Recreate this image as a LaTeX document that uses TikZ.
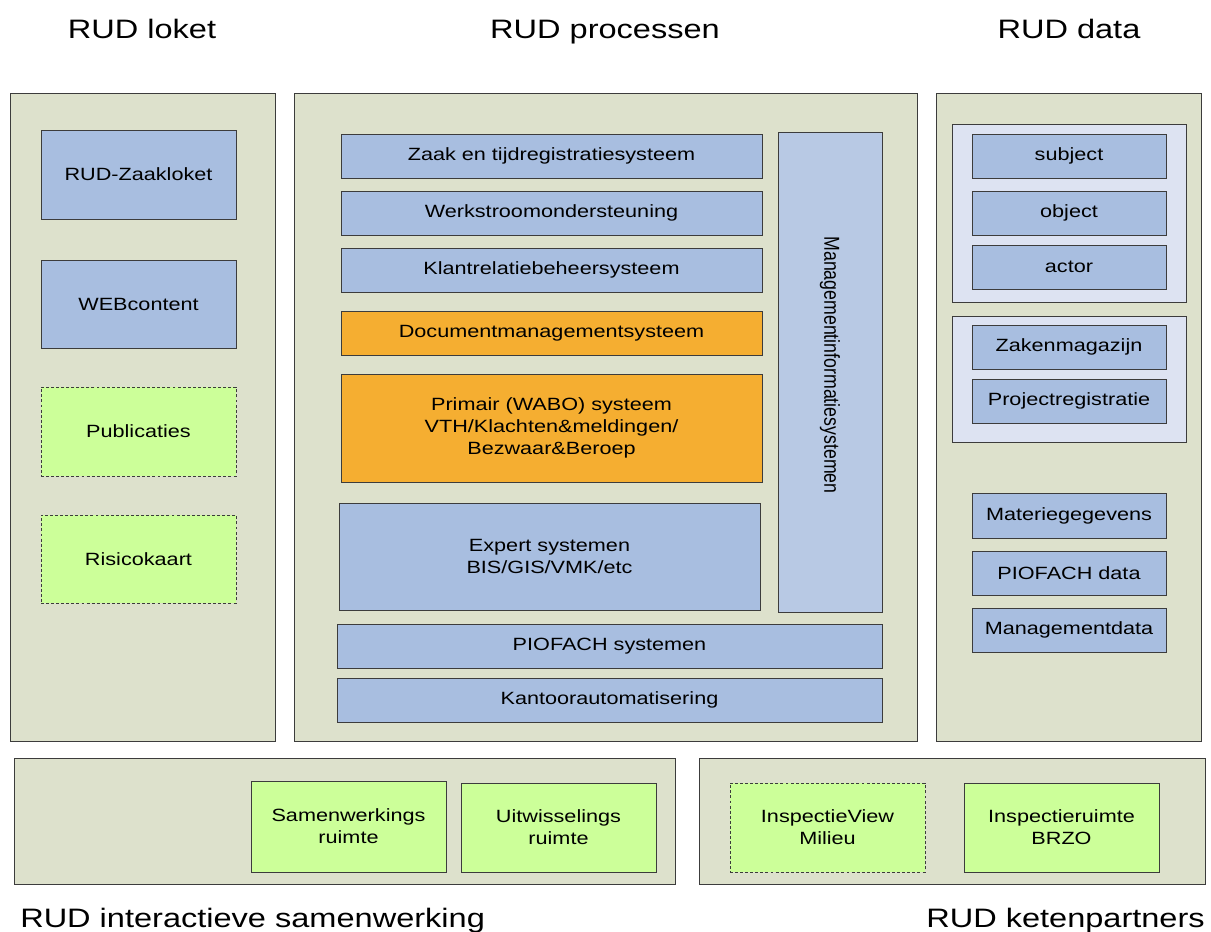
\documentclass[tikz,border=0pt]{standalone}
\usepackage{fontspec}
\usepackage{graphicx}
\setmainfont{Liberation Sans}[FakeStretch=1.22]
\newfontfamily\plainsans{Liberation Sans}
\definecolor{panel}{RGB}{221,225,204}
\definecolor{bluebox}{RGB}{168,190,224}
\definecolor{mgmtbox}{RGB}{184,201,228}
\definecolor{orangebox}{RGB}{245,174,49}
\definecolor{greenbox}{RGB}{204,255,153}
\definecolor{lavbox}{RGB}{221,227,242}
\definecolor{edge}{RGB}{60,60,60}
\tikzset{
  base/.style={draw=edge, line width=0.75pt, inner sep=0pt, align=center,
    font=\fontsize{13.3pt}{16.5pt}\selectfont, text=black},
  panelbox/.style={base, fill=panel},
  groupbox/.style={base, fill=lavbox},
  bluenode/.style={base, fill=bluebox},
  mgmtnode/.style={base, fill=mgmtbox},
  orangenode/.style={base, fill=orangebox},
  greennode/.style={base, fill=greenbox},
  dashedgreen/.style={base, fill=greenbox, dash pattern=on 2.2pt off 1.6pt},
  titletext/.style={font=\fontsize{20pt}{24pt}\selectfont, text=black, inner sep=0pt}
}
% box from corner (x1,y1) to (x2,y2) in pixel units
\newcommand\rbox[7]{\node[#1, minimum width={(#5-#3)*0.75pt}, minimum height={(#6-#4)*0.75pt}] (#2) at ({(#3+#5)/2},{(#4+#6)/2}) {#7};}
\begin{document}
\begin{tikzpicture}[x=0.75pt, y=-0.75pt]
\useasboundingbox (0,0) rectangle (1211,932);
% titles
\node[titletext, anchor=base] (tloket) at (142,38) {RUD loket};
\node[titletext, anchor=base] (tproc) at (605,38) {RUD processen};
\node[titletext, anchor=base] (tdata) at (1069,38) {RUD data};
\node[titletext, anchor=base west] (tinter) at (20,927) {RUD interactieve samenwerking};
\node[titletext, anchor=base east] (tketen) at (1205,927) {RUD ketenpartners};
% panels
\rbox{panelbox}{ploket}{10}{93}{275}{741}{}
\rbox{panelbox}{pproc}{294}{93}{917}{741}{}
\rbox{panelbox}{pdata}{936}{93}{1201}{741}{}
\rbox{panelbox}{pinter}{14}{758}{675}{884}{}
\rbox{panelbox}{pketen}{699}{758}{1205}{884}{}
% loket
\rbox{bluenode}{zaakloket}{41}{130}{236}{219}{RUD-Zaakloket}
\rbox{bluenode}{web}{41}{260}{236}{348}{WEBcontent}
\rbox{dashedgreen}{publ}{41}{387}{236}{476}{Publicaties}
\rbox{dashedgreen}{risico}{41}{515}{236}{603}{Risicokaart}
% processen
\rbox{bluenode}{zaak}{341}{134}{762}{178}{Zaak en tijdregistratiesysteem}
\rbox{bluenode}{werk}{341}{191}{762}{235}{Werkstroomondersteuning}
\rbox{bluenode}{klant}{341}{248}{762}{292}{Klantrelatiebeheersysteem}
\rbox{orangenode}{doc}{341}{311}{762}{355}{Documentmanagementsysteem}
\rbox{orangenode}{prim}{341}{374}{762}{482}{Primair (WABO) systeem\\VTH/Klachten\&meldingen/\\Bezwaar\&Beroep}
\rbox{bluenode}{expert}{339}{503}{760}{610}{Expert systemen\\BIS/GIS/VMK/etc}
\rbox{mgmtnode}{mgmt}{778}{132}{882}{612}{}
\node[rotate=-90, inner sep=0pt, font=\plainsans\fontsize{13.3pt}{16.5pt}\selectfont] (mgmtlabel) at (830,365) {\scalebox{1}[1.22]{Managementinformatiesystemen}};
\rbox{bluenode}{piofs}{337}{624}{882}{668}{PIOFACH systemen}
\rbox{bluenode}{kantoor}{337}{678}{882}{722}{Kantoorautomatisering}
% data
\rbox{groupbox}{grp1}{952}{124}{1186}{302}{}
\rbox{bluenode}{subject}{972}{134}{1166}{178}{subject}
\rbox{bluenode}{object}{972}{191}{1166}{235}{object}
\rbox{bluenode}{actor}{972}{245}{1166}{289}{actor}
\rbox{groupbox}{grp2}{952}{316}{1186}{442}{}
\rbox{bluenode}{zaken}{972}{325}{1166}{369}{Zakenmagazijn}
\rbox{bluenode}{proj}{972}{379}{1166}{423}{Projectregistratie}
\rbox{bluenode}{materie}{972}{493}{1166}{538}{Materiegegevens}
\rbox{bluenode}{piofd}{972}{551}{1166}{595}{PIOFACH data}
\rbox{bluenode}{mdata}{972}{608}{1166}{652}{Managementdata}
% bottom
\rbox{greennode}{samen}{251}{781}{446}{872}{Samenwerkings\\ruimte}
\rbox{greennode}{uitw}{461}{783}{656}{872}{Uitwisselings\\ruimte}
\rbox{dashedgreen}{iview}{730}{783}{925}{872}{InspectieView\\Milieu}
\rbox{greennode}{iruimte}{964}{783}{1159}{872}{Inspectieruimte\\BRZO}
\end{tikzpicture}
\end{document}
